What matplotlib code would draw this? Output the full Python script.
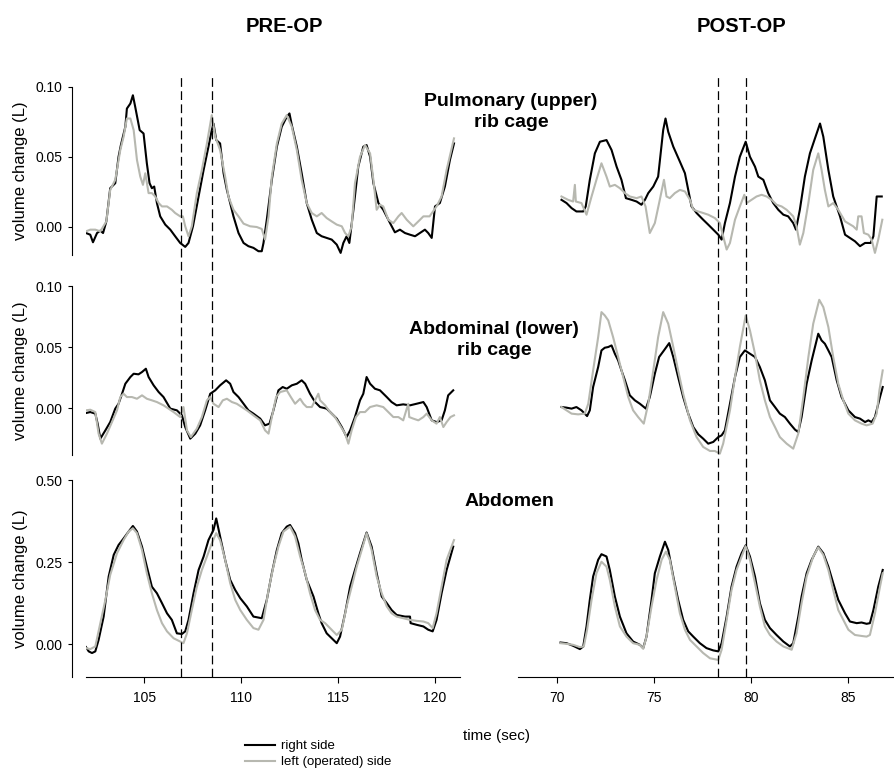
import matplotlib
matplotlib.use('Agg')
import matplotlib.pyplot as plt
from matplotlib.lines import Line2D

plt.rcParams['font.family'] = ['Liberation Sans', 'DejaVu Sans']

# ---------------- data (time in s, volume change in L) ----------------
pre_upper_right = [
    (102.0, -0.0043), (102.22, -0.0055), (102.36, -0.0109), (102.57, -0.0043), (102.74, -0.0026),
    (102.88, -0.0043), (103.05, 0.0040), (103.25, 0.0277), (103.51, 0.0313), (103.68, 0.0502),
    (103.80, 0.0585), (104.03, 0.0716), (104.11, 0.0846), (104.29, 0.0882), (104.42, 0.0941),
    (104.54, 0.0858), (104.77, 0.0692), (104.97, 0.0668), (105.14, 0.0455), (105.28, 0.0313),
    (105.40, 0.0277), (105.52, 0.0289), (105.66, 0.0171), (105.83, 0.0076), (106.09, 0.0017),
    (106.35, -0.0019), (106.60, -0.0066), (106.86, -0.0114), (107.12, -0.0142), (107.29, -0.0114),
    (107.52, 0.0005), (107.81, 0.0218), (108.07, 0.0408), (108.32, 0.0574), (108.49, 0.0692),
    (108.58, 0.0739), (108.72, 0.0621), (108.92, 0.0597), (109.10, 0.0384), (109.27, 0.0265),
    (109.44, 0.0171), (109.61, 0.0076), (109.87, -0.0043), (110.13, -0.0114), (110.38, -0.0137),
    (110.64, -0.0149), (110.90, -0.0173), (111.07, -0.0173), (111.16, -0.0114), (111.33, 0.0052),
    (111.59, 0.0337), (111.85, 0.0574), (112.10, 0.0716), (112.36, 0.0787), (112.50, 0.0811),
    (112.62, 0.0728), (112.88, 0.0574), (113.13, 0.0384), (113.39, 0.0171), (113.65, 0.0052),
    (113.91, -0.0043), (114.16, -0.0066), (114.42, -0.0078), (114.68, -0.0090), (114.94, -0.0126),
    (115.14, -0.0185), (115.28, -0.0114), (115.45, -0.0066), (115.59, -0.0114), (115.80, 0.0123),
    (116.05, 0.0431), (116.31, 0.0574), (116.48, 0.0585), (116.66, 0.0502), (116.83, 0.0313),
    (117.09, 0.0171), (117.34, 0.0123), (117.69, 0.0028), (117.94, -0.0038), (118.20, -0.0019),
    (118.46, -0.0043), (118.72, -0.0055), (118.98, -0.0066), (119.23, -0.0043), (119.49, -0.0019),
    (119.66, -0.0043), (119.84, -0.0078), (120.01, 0.0147), (120.26, 0.0171), (120.52, 0.0289),
    (120.78, 0.0479), (120.99, 0.0597)]
pre_upper_left = [
    (102.0, -0.0031), (102.22, -0.0019), (102.48, -0.0019), (102.74, -0.0031), (103.05, 0.0040),
    (103.25, 0.0265), (103.51, 0.0337), (103.77, 0.0550), (103.94, 0.0645), (104.11, 0.0775),
    (104.29, 0.0775), (104.46, 0.0692), (104.63, 0.0479), (104.80, 0.0360), (104.94, 0.0301),
    (105.06, 0.0384), (105.23, 0.0242), (105.40, 0.0242), (105.57, 0.0218), (105.75, 0.0171),
    (105.92, 0.0147), (106.18, 0.0147), (106.43, 0.0123), (106.60, 0.0100), (106.86, 0.0076),
    (107.00, 0.0076), (107.12, 0.0005), (107.29, -0.0066), (107.46, 0.0005), (107.72, 0.0242),
    (107.98, 0.0408), (108.24, 0.0597), (108.49, 0.0799), (108.67, 0.0645), (108.92, 0.0550),
    (109.18, 0.0360), (109.35, 0.0218), (109.61, 0.0123), (109.87, 0.0076), (110.13, 0.0024),
    (110.47, 0.0005), (110.81, 0.0), (111.07, -0.0014), (111.24, -0.0090), (111.42, 0.0076),
    (111.59, 0.0360), (111.85, 0.0597), (112.10, 0.0739), (112.36, 0.0799), (112.62, 0.0716),
    (112.88, 0.0550), (113.13, 0.0337), (113.39, 0.0171), (113.65, 0.0100), (113.91, 0.0076),
    (114.16, 0.0100), (114.42, 0.0064), (114.68, 0.0040), (114.94, 0.0017), (115.20, 0.0005),
    (115.37, -0.0043), (115.54, -0.0066), (115.71, 0.0005), (115.88, 0.0313), (116.14, 0.0502),
    (116.40, 0.0585), (116.66, 0.0526), (116.83, 0.0337), (117.00, 0.0123), (117.17, 0.0159),
    (117.34, 0.0147), (117.60, 0.0052), (117.86, 0.0028), (118.12, 0.0076), (118.29, 0.0100),
    (118.55, 0.0052), (118.89, 0.0005), (119.15, 0.0040), (119.41, 0.0076), (119.73, 0.0076),
    (120.09, 0.0147), (120.35, 0.0218), (120.61, 0.0408), (120.99, 0.0633)]

post_upper_right = [
    (70.24, 0.0194), (70.50, 0.0171), (70.76, 0.0135), (71.01, 0.0111), (71.36, 0.0111),
    (71.49, 0.0147), (71.70, 0.0337), (71.96, 0.0526), (72.22, 0.0609), (72.56, 0.0621),
    (72.82, 0.0550), (73.08, 0.0431), (73.33, 0.0337), (73.56, 0.0206), (73.85, 0.0194),
    (74.11, 0.0182), (74.36, 0.0159), (74.54, 0.0194), (74.71, 0.0242), (74.97, 0.0289),
    (75.22, 0.0360), (75.48, 0.0692), (75.60, 0.0775), (75.74, 0.0680), (76.00, 0.0574),
    (76.34, 0.0467), (76.60, 0.0384), (76.94, 0.0147), (77.20, 0.0100), (77.54, 0.0052),
    (77.80, 0.0017), (78.06, -0.0019), (78.32, -0.0055), (78.49, -0.0090), (78.66, 0.0028),
    (78.92, 0.0171), (79.18, 0.0360), (79.43, 0.0502), (79.73, 0.0609), (79.95, 0.0502),
    (80.21, 0.0431), (80.38, 0.0360), (80.64, 0.0337), (80.89, 0.0242), (81.15, 0.0171),
    (81.41, 0.0123), (81.67, 0.0088), (81.92, 0.0076), (82.18, 0.0028), (82.32, -0.0019),
    (82.52, 0.0123), (82.78, 0.0360), (83.04, 0.0526), (83.30, 0.0633), (83.56, 0.0739),
    (83.73, 0.0645), (83.99, 0.0408), (84.24, 0.0218), (84.59, 0.0076), (84.85, -0.0055),
    (85.10, -0.0078), (85.36, -0.0102), (85.62, -0.0137), (85.88, -0.0114), (86.17, -0.0114),
    (86.31, -0.0066), (86.48, 0.0218), (86.74, 0.0218)]
post_upper_left = [
    (70.24, 0.0218), (70.58, 0.0194), (70.84, 0.0182), (70.93, 0.0301), (70.98, 0.0182),
    (71.27, 0.0171), (71.53, 0.0088), (71.79, 0.0218), (72.04, 0.0337), (72.30, 0.0455),
    (72.56, 0.0360), (72.73, 0.0289), (72.99, 0.0301), (73.25, 0.0277), (73.51, 0.0242),
    (73.76, 0.0218), (74.11, 0.0206), (74.36, 0.0218), (74.57, 0.0147), (74.79, -0.0043),
    (75.05, 0.0028), (75.27, 0.0171), (75.52, 0.0337), (75.65, 0.0218), (75.82, 0.0206),
    (76.08, 0.0242), (76.34, 0.0265), (76.60, 0.0254), (76.86, 0.0194), (77.03, 0.0123),
    (77.29, 0.0111), (77.54, 0.0100), (77.80, 0.0088), (78.14, 0.0064), (78.40, 0.0028),
    (78.57, -0.0066), (78.75, -0.0161), (78.92, -0.0114), (79.18, 0.0052), (79.43, 0.0147),
    (79.66, 0.0230), (79.78, 0.0171), (80.03, 0.0194), (80.29, 0.0218), (80.55, 0.0230),
    (80.81, 0.0218), (81.07, 0.0194), (81.32, 0.0159), (81.58, 0.0147), (81.84, 0.0123),
    (82.18, 0.0076), (82.35, 0.0005), (82.52, -0.0126), (82.70, -0.0043), (82.96, 0.0171),
    (83.21, 0.0408), (83.47, 0.0526), (83.64, 0.0408), (83.81, 0.0265), (83.99, 0.0147),
    (84.24, 0.0171), (84.50, 0.0123), (84.85, 0.0040), (85.27, 0.0005), (85.45, -0.0019),
    (85.53, 0.0076), (85.70, 0.0076), (85.82, -0.0043), (86.05, -0.0055), (86.22, -0.0090),
    (86.39, -0.0185), (86.56, -0.0090), (86.77, 0.0052)]

pre_lower_right = [
    (102.0, -0.0041), (102.22, -0.0033), (102.48, -0.0046), (102.60, -0.0128), (102.74, -0.0251),
    (103.00, -0.0183), (103.25, -0.0115), (103.51, -0.0005), (103.68, 0.0035), (103.86, 0.0117),
    (104.03, 0.0199), (104.29, 0.0254), (104.46, 0.0281), (104.71, 0.0276), (104.89, 0.0295),
    (105.09, 0.0322), (105.23, 0.0254), (105.49, 0.0186), (105.75, 0.0131), (106.00, 0.0090),
    (106.35, -0.0005), (106.69, -0.0019), (106.95, -0.0060), (107.12, -0.0156), (107.38, -0.0251),
    (107.64, -0.0210), (107.89, -0.0142), (108.15, -0.0019), (108.41, 0.0117), (108.67, 0.0145),
    (108.92, 0.0186), (109.23, 0.0227), (109.44, 0.0199), (109.61, 0.0131), (109.87, 0.0090),
    (110.13, 0.0035), (110.38, -0.0019), (110.64, -0.0046), (110.99, -0.0087), (111.24, -0.0142),
    (111.47, -0.0128), (111.67, -0.0019), (111.93, 0.0145), (112.15, 0.0172), (112.36, 0.0158),
    (112.62, 0.0186), (112.88, 0.0199), (113.13, 0.0227), (113.31, 0.0199), (113.56, 0.0117),
    (113.82, 0.0049), (114.08, 0.0008), (114.42, -0.0005), (114.68, -0.0046), (114.94, -0.0087),
    (115.20, -0.0156), (115.45, -0.0238), (115.63, -0.0183), (115.88, -0.0074), (116.14, 0.0063),
    (116.31, 0.0117), (116.48, 0.0254), (116.66, 0.0199), (116.91, 0.0158), (117.17, 0.0145),
    (117.52, 0.0090), (117.77, 0.0049), (118.03, 0.0022), (118.37, 0.0030), (118.72, 0.0022),
    (119.06, 0.0035), (119.41, 0.0049), (119.58, 0.0008), (119.84, -0.0101), (120.09, -0.0115),
    (120.35, -0.0101), (120.52, -0.0019), (120.69, 0.0104), (120.95, 0.0145)]
pre_lower_left = [
    (102.0, -0.0019), (102.22, -0.0014), (102.48, -0.0033), (102.65, -0.0210), (102.82, -0.0292),
    (103.08, -0.0210), (103.34, -0.0115), (103.60, -0.0019), (103.77, 0.0090), (103.94, 0.0117),
    (104.11, 0.0090), (104.37, 0.0090), (104.63, 0.0076), (104.89, 0.0104), (105.14, 0.0076),
    (105.40, 0.0063), (105.66, 0.0049), (106.00, 0.0022), (106.26, -0.0005), (106.52, -0.0033),
    (106.86, -0.0074), (107.03, 0.0008), (107.21, -0.0183), (107.41, -0.0238), (107.72, -0.0169),
    (107.98, -0.0074), (108.24, 0.0063), (108.41, 0.0090), (108.58, 0.0035), (108.84, 0.0008),
    (109.06, 0.0063), (109.27, 0.0076), (109.53, 0.0049), (109.78, 0.0035), (110.04, 0.0008),
    (110.30, -0.0019), (110.64, -0.0060), (110.99, -0.0101), (111.24, -0.0183), (111.42, -0.0210),
    (111.59, -0.0074), (111.81, 0.0090), (112.02, 0.0131), (112.36, 0.0145), (112.57, 0.0090),
    (112.79, 0.0035), (113.05, 0.0076), (113.22, 0.0035), (113.39, 0.0008), (113.65, 0.0008),
    (113.99, 0.0117), (114.08, 0.0063), (114.34, 0.0022), (114.59, -0.0033), (114.85, -0.0074),
    (115.11, -0.0142), (115.37, -0.0210), (115.54, -0.0292), (115.71, -0.0183), (115.93, -0.0074),
    (116.14, -0.0033), (116.40, -0.0033), (116.66, 0.0008), (117.00, 0.0022), (117.34, 0.0008),
    (117.60, -0.0033), (117.86, -0.0074), (118.12, -0.0074), (118.37, -0.0101), (118.63, 0.0035),
    (118.68, -0.0074), (118.89, -0.0087), (119.15, -0.0101), (119.41, -0.0074), (119.58, -0.0046),
    (119.84, -0.0101), (120.09, -0.0128), (120.26, -0.0074), (120.44, -0.0156), (120.61, -0.0115),
    (120.81, -0.0074), (120.99, -0.0060)]

post_lower_right = [
    (70.24, 0.0008), (70.50, 0.0003), (70.76, -0.0005), (71.01, 0.0008), (71.27, -0.0019),
    (71.56, -0.0066), (71.70, -0.0019), (71.87, 0.0172), (72.13, 0.0336), (72.30, 0.0472),
    (72.47, 0.0494), (72.65, 0.0500), (72.82, 0.0513), (72.99, 0.0445), (73.16, 0.0390),
    (73.33, 0.0308), (73.51, 0.0227), (73.76, 0.0104), (74.02, 0.0063), (74.28, 0.0035),
    (74.59, -0.0005), (74.79, 0.0090), (75.05, 0.0281), (75.27, 0.0418), (75.52, 0.0472),
    (75.79, 0.0532), (76.00, 0.0418), (76.25, 0.0254), (76.51, 0.0090), (76.77, -0.0046),
    (77.03, -0.0156), (77.29, -0.0216), (77.54, -0.0251), (77.80, -0.0292), (78.06, -0.0278),
    (78.32, -0.0238), (78.49, -0.0224), (78.66, -0.0183), (78.92, 0.0035), (79.18, 0.0254),
    (79.43, 0.0418), (79.69, 0.0472), (79.95, 0.0445), (80.21, 0.0418), (80.46, 0.0336),
    (80.72, 0.0227), (80.98, 0.0063), (81.24, 0.0008), (81.49, -0.0046), (81.75, -0.0074),
    (82.01, -0.0128), (82.27, -0.0177), (82.44, -0.0197), (82.61, -0.0074), (82.87, 0.0199),
    (83.13, 0.0390), (83.30, 0.0500), (83.47, 0.0609), (83.64, 0.0554), (83.81, 0.0527),
    (83.99, 0.0472), (84.16, 0.0418), (84.42, 0.0227), (84.67, 0.0090), (85.02, -0.0019),
    (85.36, -0.0074), (85.62, -0.0087), (85.88, -0.0115), (86.05, -0.0101), (86.22, -0.0115),
    (86.39, -0.0074), (86.65, 0.0090), (86.79, 0.0172)]
post_lower_left = [
    (70.24, 0.0008), (70.50, -0.0019), (70.76, -0.0046), (71.10, -0.0052), (71.44, -0.0046),
    (71.62, 0.0035), (71.87, 0.0308), (72.13, 0.0581), (72.30, 0.0786), (72.47, 0.0759),
    (72.65, 0.0718), (72.90, 0.0581), (73.16, 0.0418), (73.42, 0.0254), (73.68, 0.0090),
    (73.93, -0.0019), (74.19, -0.0074), (74.48, -0.0128), (74.71, 0.0035), (74.97, 0.0308),
    (75.22, 0.0581), (75.48, 0.0786), (75.74, 0.0691), (76.00, 0.0500), (76.25, 0.0308),
    (76.51, 0.0117), (76.86, -0.0101), (77.20, -0.0238), (77.54, -0.0319), (77.89, -0.0352),
    (78.14, -0.0352), (78.40, -0.0374), (78.57, -0.0292), (78.92, -0.0019), (79.18, 0.0254),
    (79.43, 0.0500), (79.73, 0.0759), (79.95, 0.0636), (80.21, 0.0445), (80.46, 0.0227),
    (80.72, 0.0063), (80.98, -0.0074), (81.24, -0.0156), (81.49, -0.0238), (81.84, -0.0292),
    (82.18, -0.0333), (82.44, -0.0210), (82.70, 0.0090), (82.96, 0.0418), (83.21, 0.0691),
    (83.52, 0.0887), (83.73, 0.0827), (83.99, 0.0663), (84.24, 0.0418), (84.50, 0.0199),
    (84.76, 0.0063), (85.02, -0.0046), (85.36, -0.0101), (85.70, -0.0128), (85.96, -0.0142),
    (86.27, -0.0128), (86.48, -0.0046), (86.62, 0.0145), (86.79, 0.0308)]

pre_abd_right = [
    (102.0, -0.009), (102.14, -0.022), (102.31, -0.027), (102.48, -0.022), (102.65, 0.013),
    (102.91, 0.084), (103.17, 0.206), (103.43, 0.272), (103.68, 0.302), (103.94, 0.322),
    (104.20, 0.343), (104.42, 0.360), (104.63, 0.343), (104.89, 0.297), (105.14, 0.236),
    (105.40, 0.175), (105.66, 0.155), (105.92, 0.125), (106.18, 0.094), (106.43, 0.074),
    (106.69, 0.033), (106.95, 0.031), (107.12, 0.039), (107.29, 0.074), (107.55, 0.155),
    (107.81, 0.226), (108.07, 0.267), (108.32, 0.317), (108.58, 0.348), (108.72, 0.383),
    (108.92, 0.328), (109.18, 0.257), (109.44, 0.196), (109.70, 0.165), (109.96, 0.140),
    (110.30, 0.115), (110.64, 0.084), (111.07, 0.079), (111.33, 0.135), (111.59, 0.216),
    (111.85, 0.287), (112.10, 0.338), (112.36, 0.358), (112.53, 0.363), (112.79, 0.338),
    (112.96, 0.307), (113.13, 0.257), (113.39, 0.196), (113.74, 0.145), (113.99, 0.094),
    (114.16, 0.064), (114.42, 0.033), (114.68, 0.018), (114.94, 0.003), (115.11, 0.023),
    (115.37, 0.094), (115.63, 0.175), (115.88, 0.226), (116.14, 0.277), (116.48, 0.340),
    (116.74, 0.297), (117.00, 0.216), (117.26, 0.145), (117.52, 0.125), (117.77, 0.104),
    (118.03, 0.089), (118.46, 0.084), (118.72, 0.084), (118.75, 0.064), (119.06, 0.059),
    (119.41, 0.054), (119.66, 0.044), (119.89, 0.039), (120.09, 0.074), (120.35, 0.155),
    (120.61, 0.226), (120.95, 0.297)]
pre_abd_left = [
    (102.0, -0.012), (102.22, -0.015), (102.48, -0.007), (102.74, 0.064), (103.00, 0.135),
    (103.25, 0.211), (103.60, 0.277), (103.94, 0.317), (104.20, 0.343), (104.42, 0.353),
    (104.63, 0.338), (104.89, 0.287), (105.14, 0.216), (105.40, 0.155), (105.66, 0.104),
    (105.92, 0.064), (106.18, 0.039), (106.52, 0.018), (106.86, 0.008), (107.03, 0.003),
    (107.21, 0.033), (107.46, 0.104), (107.72, 0.175), (107.98, 0.226), (108.24, 0.267),
    (108.49, 0.307), (108.72, 0.338), (108.92, 0.317), (109.18, 0.257), (109.44, 0.186),
    (109.70, 0.135), (109.96, 0.104), (110.30, 0.074), (110.64, 0.049), (110.90, 0.044),
    (111.16, 0.074), (111.42, 0.165), (111.67, 0.236), (111.93, 0.297), (112.19, 0.343),
    (112.53, 0.358), (112.79, 0.328), (113.05, 0.267), (113.31, 0.216), (113.56, 0.155),
    (113.82, 0.104), (114.08, 0.074), (114.34, 0.064), (114.59, 0.049), (114.94, 0.028),
    (115.20, 0.044), (115.45, 0.115), (115.71, 0.175), (115.97, 0.236), (116.23, 0.287),
    (116.48, 0.338), (116.74, 0.287), (117.00, 0.206), (117.26, 0.155), (117.52, 0.115),
    (117.77, 0.094), (118.03, 0.084), (118.37, 0.079), (118.72, 0.074), (119.06, 0.071),
    (119.41, 0.069), (119.66, 0.064), (119.89, 0.049), (120.09, 0.094), (120.35, 0.175),
    (120.61, 0.257), (120.99, 0.317)]

post_abd_right = [
    (70.19, 0.005), (70.50, 0.003), (70.84, -0.005), (71.19, -0.015), (71.36, -0.007),
    (71.53, 0.054), (71.70, 0.135), (71.87, 0.206), (72.13, 0.257), (72.30, 0.274),
    (72.56, 0.267), (72.73, 0.226), (72.99, 0.145), (73.25, 0.084), (73.59, 0.033),
    (73.93, 0.008), (74.28, -0.002), (74.45, -0.012), (74.62, 0.023), (74.88, 0.135),
    (75.05, 0.216), (75.31, 0.267), (75.57, 0.312), (75.74, 0.287), (76.00, 0.206),
    (76.25, 0.135), (76.51, 0.074), (76.77, 0.039), (77.03, 0.023), (77.37, 0.003),
    (77.71, -0.012), (78.06, -0.019), (78.32, -0.022), (78.49, 0.003), (78.75, 0.084),
    (79.00, 0.175), (79.26, 0.236), (79.52, 0.277), (79.73, 0.301), (79.95, 0.267),
    (80.21, 0.206), (80.46, 0.125), (80.72, 0.074), (80.98, 0.049), (81.32, 0.028),
    (81.67, 0.008), (82.01, -0.007), (82.18, 0.003), (82.44, 0.084), (82.61, 0.145),
    (82.87, 0.216), (83.13, 0.257), (83.47, 0.297), (83.73, 0.277), (83.99, 0.236),
    (84.24, 0.186), (84.50, 0.135), (84.85, 0.094), (85.10, 0.069), (85.45, 0.064),
    (85.70, 0.066), (85.96, 0.062), (86.13, 0.064), (86.31, 0.104), (86.56, 0.175),
    (86.79, 0.226)]
post_abd_left = [
    (70.19, 0.003), (70.50, 0.001), (70.84, -0.002), (71.19, -0.009), (71.39, -0.007),
    (71.56, 0.044), (71.79, 0.135), (72.04, 0.216), (72.30, 0.251), (72.56, 0.236),
    (72.73, 0.196), (72.99, 0.115), (73.25, 0.054), (73.59, 0.023), (73.93, 0.003),
    (74.28, -0.002), (74.45, -0.014), (74.62, 0.023), (74.88, 0.115), (75.14, 0.196),
    (75.40, 0.257), (75.62, 0.282), (75.82, 0.257), (76.08, 0.175), (76.34, 0.094),
    (76.60, 0.044), (76.86, 0.013), (77.20, -0.007), (77.54, -0.027), (77.89, -0.043),
    (78.32, -0.048), (78.49, -0.017), (78.75, 0.074), (79.00, 0.165), (79.26, 0.226),
    (79.52, 0.267), (79.73, 0.299), (79.95, 0.257), (80.21, 0.186), (80.46, 0.115),
    (80.72, 0.054), (80.98, 0.028), (81.32, 0.008), (81.67, -0.007), (82.10, -0.017),
    (82.35, 0.033), (82.61, 0.125), (82.87, 0.206), (83.21, 0.267), (83.47, 0.295),
    (83.73, 0.272), (83.99, 0.226), (84.24, 0.165), (84.50, 0.104), (84.76, 0.074),
    (85.02, 0.044), (85.36, 0.028), (85.70, 0.025), (85.96, 0.023), (86.13, 0.028),
    (86.39, 0.094), (86.65, 0.175), (86.79, 0.216)]

pre_markers = [106.9, 108.5]
post_markers = [78.3, 79.74]

col_titles = ['PRE-OP', 'POST-OP']
row_titles = ['Pulmonary (upper)\nrib cage', 'Abdominal (lower)\nrib cage', 'Abdomen']
legend_labels = ['right side', 'left (operated) side']
ylabel = 'volume change (L)'
xlabel = 'time (sec)'

row_ylims = [(-0.02, 0.10), (-0.0385, 0.10), (-0.10, 0.50)]
row_yticks = [[0.0, 0.05, 0.10], [0.0, 0.05, 0.10], [0.0, 0.25, 0.50]]
pre_xticks = [105, 110, 115, 120]
post_xticks = [70, 75, 80, 85]

# ---------------- layout ----------------
W, H = 894, 769
fig = plt.figure(figsize=(W / 100, H / 100), dpi=100)

def fx(px):
    return px / W

def fy(py):
    return 1 - py / H

BLACK = '#000000'
GRAY = '#b7b8b0'

cols = [
    dict(x0=86, x1=460, xlim=(102.0, 121.3), xticks=pre_xticks, markers=pre_markers,
         series=[(pre_upper_right, pre_upper_left), (pre_lower_right, pre_lower_left),
                 (pre_abd_right, pre_abd_left)], yaxis=True),
    dict(x0=518, x1=893, xlim=(68.0, 87.32), xticks=post_xticks, markers=post_markers,
         series=[(post_upper_right, post_upper_left), (post_lower_right, post_lower_left),
                 (post_abd_right, post_abd_left)], yaxis=False),
]
rows = [(87, 255), (286, 455), (480, 677)]

for col in cols:
    for r, (y0, y1) in enumerate(rows):
        ax = fig.add_axes([fx(col['x0']), fy(y1), fx(col['x1']) - fx(col['x0']), (y1 - y0) / H])
        ax.patch.set_alpha(0)
        right, left = col['series'][r]
        ax.plot([p[0] for p in right], [p[1] for p in right], color=BLACK, lw=1.5,
                solid_joinstyle='round')
        ax.plot([p[0] for p in left], [p[1] for p in left], color=GRAY, lw=1.5,
                solid_joinstyle='round')
        ax.set_xlim(*col['xlim'])
        ax.set_ylim(*row_ylims[r])
        for s in ['top', 'right']:
            ax.spines[s].set_visible(False)
        if col['yaxis']:
            ax.spines['left'].set_position(('outward', 10))
            ax.spines['left'].set_linewidth(0.8)
            ax.set_yticks(row_yticks[r])
            ax.set_yticklabels(['%.2f' % v for v in row_yticks[r]])
            ax.tick_params(axis='y', direction='out', length=3, width=0.8, pad=4, labelsize=10)
            fig.text(fx(21), fy((y0 + y1) / 2), ylabel, rotation=90, ha='center', va='center',
                     fontsize=12)
        else:
            ax.spines['left'].set_visible(False)
            ax.set_yticks([])
        if r == 2:
            ax.spines['bottom'].set_linewidth(0.8)
            ax.set_xticks(col['xticks'])
            ax.tick_params(axis='x', direction='out', length=4.3, width=0.8, pad=6, labelsize=10)
        else:
            ax.spines['bottom'].set_visible(False)
            ax.set_xticks([])

    # dashed marker lines spanning the column
    ov = fig.add_axes([fx(col['x0']), fy(677), fx(col['x1']) - fx(col['x0']), (677 - 77) / H])
    ov.patch.set_alpha(0)
    ov.set_xlim(*col['xlim'])
    ov.set_ylim(0, 1)
    ov.axis('off')
    for m in col['markers']:
        ov.axvline(m, color=BLACK, lw=0.9, ls=(0, (7, 3.5)))

# titles
fig.text(fx(284), fy(26), col_titles[0], ha='center', va='center', fontsize=14.5, weight='bold')
fig.text(fx(742), fy(26), col_titles[1], ha='center', va='center', fontsize=14.5, weight='bold')
fig.text(fx(511), fy(112), row_titles[0], ha='center', va='center', fontsize=14, weight='bold',
         linespacing=1.3)
fig.text(fx(494), fy(340), row_titles[1], ha='center', va='center', fontsize=14, weight='bold',
         linespacing=1.3)
fig.text(fx(509), fy(502), row_titles[2], ha='center', va='center', fontsize=14, weight='bold')
fig.text(fx(496), fy(736), xlabel, ha='center', va='center', fontsize=11)

handles = [Line2D([], [], color=BLACK, lw=1.5), Line2D([], [], color=GRAY, lw=1.5)]
fig.legend(handles, legend_labels, loc='upper left', bbox_to_anchor=(fx(245), fy(740)),
           frameon=False, fontsize=9.5, handlelength=2.3, handletextpad=0.4,
           borderpad=0, borderaxespad=0, labelspacing=0.3)

fig.savefig('out.png', dpi=100)
